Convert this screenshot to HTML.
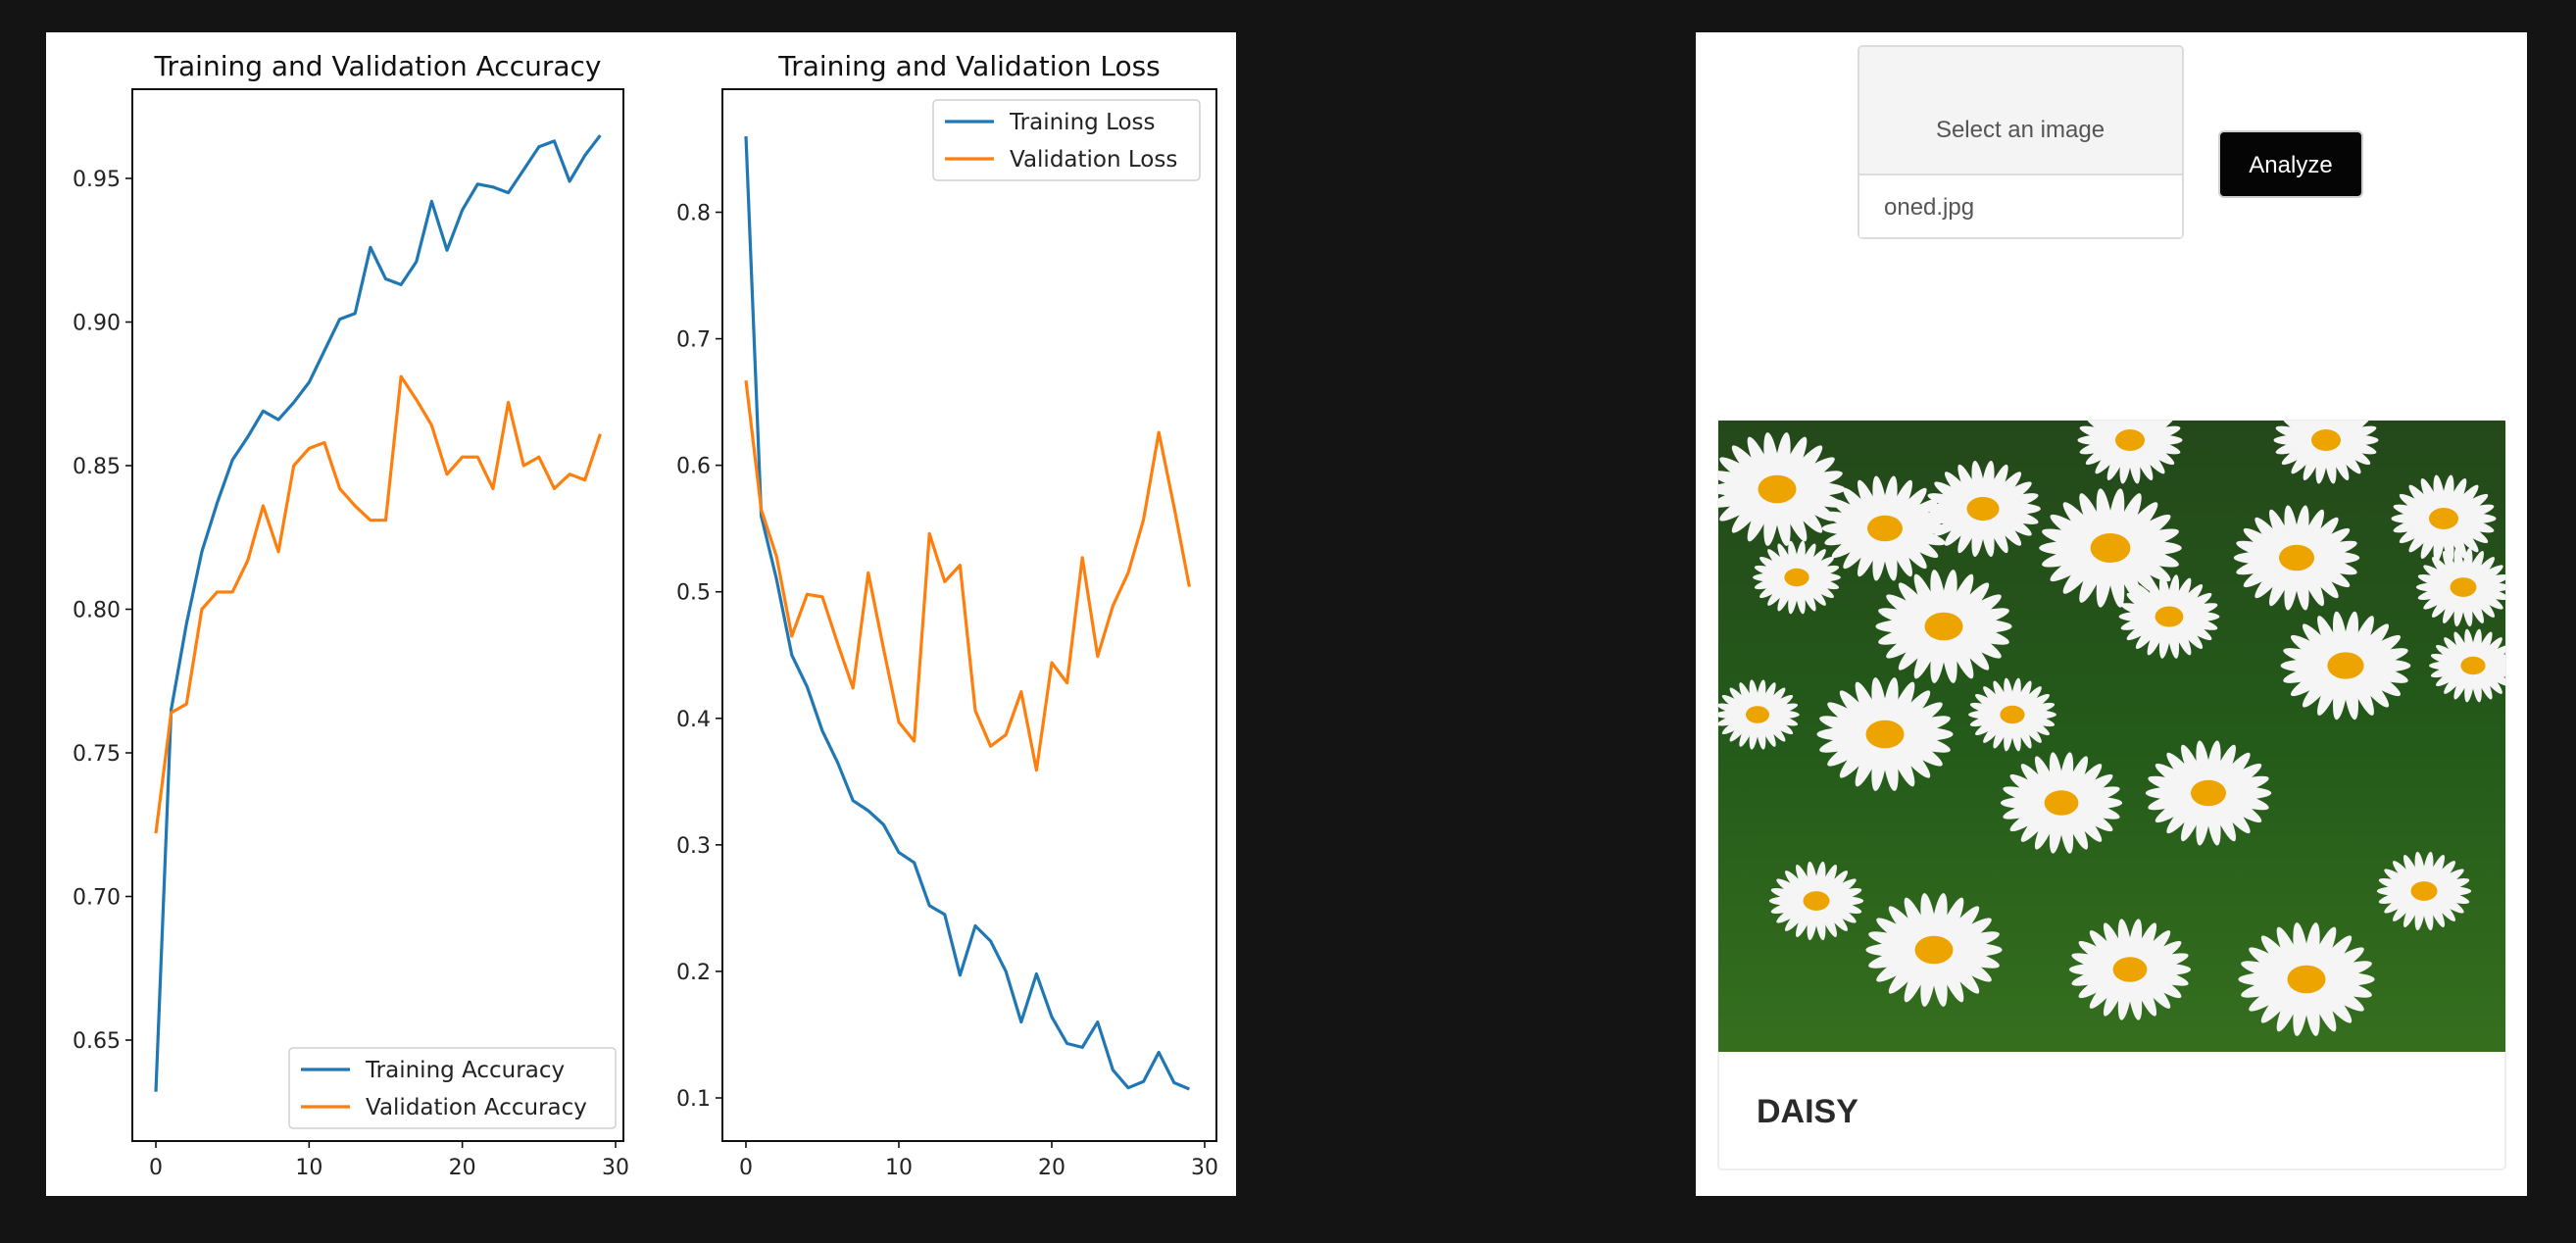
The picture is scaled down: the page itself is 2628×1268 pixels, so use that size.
<!DOCTYPE html>
<html><head><meta charset="utf-8"><style>
html,body{margin:0;padding:0;background:#141414;}
svg{display:block;}
text{font-family:"Liberation Sans","DejaVu Sans",sans-serif;}
#charts text{font-family:"DejaVu Sans","Liberation Sans",sans-serif;}
</style></head><body>
<svg id="root" width="2628" height="1268" viewBox="0 0 2628 1268" xmlns="http://www.w3.org/2000/svg">
<rect x="0" y="0" width="2628" height="1268" fill="#141414"/>
<rect x="47" y="33" width="1214" height="1187" fill="#ffffff"/>
<g id="charts"></g>
<rect x="1730" y="33" width="848" height="1187" fill="#ffffff"/>
<g>
<rect x="1896" y="47" width="331" height="196" rx="4" fill="#f4f4f4" stroke="#dcdcdc" stroke-width="2"/>
<rect x="1897" y="178" width="329" height="64" fill="#ffffff"/>
<line x1="1896" y1="178" x2="2227" y2="178" stroke="#dcdcdc" stroke-width="2"/>
<text x="2061" y="140" font-size="24" fill="#555" text-anchor="middle">Select an image</text>
<text x="1922" y="219" font-size="24" fill="#555">oned.jpg</text>
</g>
<g>
<rect x="2264" y="134" width="146" height="67" rx="5" fill="#050505" stroke="#cfcfcf" stroke-width="2"/>
<text x="2337" y="176" font-size="24" fill="#fff" text-anchor="middle">Analyze</text>
</g>
<rect x="1753" y="429" width="803" height="764" rx="4" fill="#fff" stroke="#eeeeee" stroke-width="2"/>
<svg x="1753" y="429" width="803" height="644">
<defs><linearGradient id="gr" x1="0" y1="0" x2="0" y2="1"><stop offset="0" stop-color="#24481a"/><stop offset="0.5" stop-color="#245a1a"/><stop offset="1" stop-color="#356f1e"/></linearGradient></defs>
<rect width="803" height="644" fill="url(#gr)"/>
<g id="daisies"></g>
</svg>
<text x="1792" y="1145" font-size="34" font-weight="bold" fill="#2a2a2a">DAISY</text>
</svg>
<script>
const epochs = [0,1,2,3,4,5,6,7,8,9,10,11,12,13,14,15,16,17,18,19,20,21,22,23,24,25,26,27,28,29];
const trainAcc = [0.632,0.765,0.795,0.820,0.837,0.852,0.860,0.869,0.866,0.872,0.879,0.890,0.901,0.903,0.926,0.915,0.913,0.921,0.942,0.925,0.939,0.948,0.947,0.945,0.953,0.961,0.963,0.949,0.958,0.965];
const valAcc = [0.722,0.764,0.767,0.800,0.806,0.806,0.817,0.836,0.820,0.850,0.856,0.858,0.842,0.836,0.831,0.831,0.881,0.873,0.864,0.847,0.853,0.853,0.842,0.872,0.850,0.853,0.842,0.847,0.845,0.861];
const trainLoss = [0.86,0.56,0.51,0.45,0.425,0.39,0.365,0.335,0.327,0.316,0.294,0.286,0.252,0.245,0.197,0.236,0.224,0.2,0.16,0.198,0.164,0.143,0.14,0.16,0.122,0.108,0.113,0.136,0.112,0.107];
const valLoss = [0.667,0.565,0.528,0.465,0.498,0.496,0.459,0.424,0.515,0.455,0.397,0.382,0.546,0.508,0.521,0.406,0.378,0.387,0.421,0.359,0.444,0.428,0.527,0.449,0.489,0.515,0.557,0.626,0.567,0.504];
const xTicks = [0,10,20,30];
const accTicks = [0.65,0.70,0.75,0.80,0.85,0.90,0.95];
const lossTicks = [0.1,0.2,0.3,0.4,0.5,0.6,0.7,0.8];

const NS='http://www.w3.org/2000/svg';
const charts=document.getElementById('charts');
function mk(tag,attrs,parent){const e=document.createElementNS(NS,tag);for(const k in attrs)e.setAttribute(k,attrs[k]);(parent||charts).appendChild(e);return e;}

function drawChart(cfg){
  const g=mk('g',{});
  
  
  const sx=v=>cfg.x0px+(v-0)*(cfg.x30px-cfg.x0px)/30;
  const sy=v=>cfg.yAPx+(v-cfg.yA)*(cfg.yBPx-cfg.yAPx)/(cfg.yB-cfg.yA);
  const t=mk('text',{x:(cfg.left+cfg.right)/2,y:cfg.top-14,'font-size':28,'text-anchor':'middle',fill:'#111'},g);
  t.textContent=cfg.title;
  
  
  cfg.series.forEach(s=>{
    const p=mk('polyline',{points:s.data.map((v,i)=>sx(epochs[i])+','+sy(v)).join(' '),fill:'none',stroke:s.color,'stroke-width':3.2,'stroke-linejoin':'round'},g);
    
    
  });
  mk('rect',{x:cfg.left,y:cfg.top,width:cfg.right-cfg.left,height:cfg.bottom-cfg.top,fill:'none',stroke:'#111','stroke-width':2},g);
  xTicks.forEach(v=>{
    mk('line',{x1:sx(v),x2:sx(v),y1:cfg.bottom,y2:cfg.bottom+7,stroke:'#111','stroke-width':1.6},g);
    const l=mk('text',{x:sx(v),y:cfg.bottom+34,'font-size':22,'text-anchor':'middle',fill:'#222'},g);
    l.textContent=v;
    
    
  });
  cfg.yTicks.forEach(v=>{
    mk('line',{x1:cfg.left-7,x2:cfg.left,y1:sy(v),y2:sy(v),stroke:'#111','stroke-width':1.6},g);
    const l=mk('text',{x:cfg.left-12,y:sy(v)+8,'font-size':22,'text-anchor':'end',fill:'#222'},g);
    l.textContent=cfg.fmt(v);
    
    
  });
  const L=cfg.legend;
  const lg=mk('g',{},g);
  
  
  mk('rect',{x:L.x,y:L.y,width:L.w,height:82,rx:4,fill:'#fff','fill-opacity':0.85,stroke:'#d0d0d0','stroke-width':1.5},lg);
  cfg.series.forEach((s,i)=>{
    const yy=L.y+22+i*38;
    mk('line',{x1:L.x+12,x2:L.x+62,y1:yy,y2:yy,stroke:s.color,'stroke-width':3.2},lg);
    const tx=mk('text',{x:L.x+78,y:yy+8,'font-size':23,fill:'#222'},lg);
    tx.textContent=s.label;
    
    
  });
}
drawChart({name:'accuracy-chart',title:'Training and Validation Accuracy',left:135,right:636,top:91,bottom:1164,
  x0px:159,x30px:628,yA:0.95,yAPx:182,yB:0.65,yBPx:1061,yTicks:accTicks,fmt:v=>v.toFixed(2),
  series:[{key:'training-accuracy-line',label:'Training Accuracy',data:trainAcc,color:'#1f77b4'},{key:'validation-accuracy-line',label:'Validation Accuracy',data:valAcc,color:'#ff7f0e'}],
  legend:{x:295,y:1069,w:333}});
drawChart({name:'loss-chart',title:'Training and Validation Loss',left:737,right:1241,top:91,bottom:1164,
  x0px:761,x30px:1229,yA:0.8,yAPx:216.5,yB:0.1,yBPx:1120,yTicks:lossTicks,fmt:v=>v.toFixed(1),
  series:[{key:'training-loss-line',label:'Training Loss',data:trainLoss,color:'#1f77b4'},{key:'validation-loss-line',label:'Validation Loss',data:valLoss,color:'#ff7f0e'}],
  legend:{x:952,y:102,w:272}});

// decorative daisies
const dz=document.getElementById('daisies');
const flowers=[[60,70,65],[170,110,60],[270,90,55],[400,130,68],[590,140,60],[740,100,50],[230,210,65],[500,380,60],[640,250,62],[760,170,45],[170,320,65],[350,390,58],[100,490,45],[220,540,65],[420,560,58],[600,570,65],[720,480,45],[80,160,42],[420,20,50],[770,250,42],[300,300,42],[460,200,48],[40,300,40],[620,20,50]];
flowers.forEach(f=>{
  const [cx,cy,r]=f;
  const fg=mk('g',{},dz);
  for(let a=0;a<22;a++){
    const ang=a*360/22;
    const px=cx+r*0.55*Math.cos(ang*Math.PI/180), py=cy+r*0.38*Math.sin(ang*Math.PI/180);
    mk('ellipse',{cx:px,cy:py,rx:r*0.52,ry:r*0.11,fill:'#f5f5f5',transform:'rotate('+ang+' '+px+' '+py+')'},fg);
  }
  mk('ellipse',{cx:cx,cy:cy,rx:r*0.3,ry:r*0.22,fill:'#eda400'},fg);
});
</script>
</body></html>
